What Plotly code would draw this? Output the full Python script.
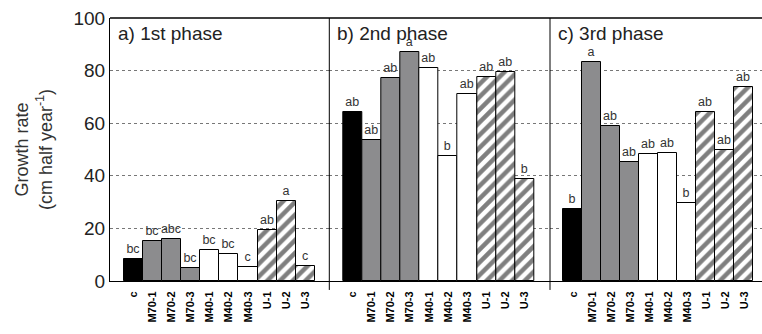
import plotly.graph_objects as go
from plotly.subplots import make_subplots

categories = ["c", "M70-1", "M70-2", "M70-3", "M40-1", "M40-2", "M40-3", "U-1", "U-2", "U-3"]
panel_titles = ["a) 1st phase", "b) 2nd phase", "c) 3rd phase"]
phase1 = [8.4, 15.2, 16.0, 5.1, 11.8, 10.3, 5.2, 19.3, 30.5, 5.6]
phase2 = [64.3, 53.6, 77.3, 87.0, 80.9, 47.6, 71.2, 77.6, 79.5, 38.9]
phase3 = [27.4, 83.3, 58.9, 45.2, 48.2, 48.5, 29.5, 64.1, 49.8, 73.6]
letters1 = ["bc", "bc", "abc", "bc", "bc", "bc", "c", "ab", "a", "c"]
letters2 = ["ab", "ab", "ab", "a", "ab", "b", "ab", "ab", "ab", "b"]
letters3 = ["b", "a", "ab", "ab", "ab", "ab", "b", "ab", "ab", "ab"]
y_ticks = [0, 20, 40, 60, 80, 100]

FONT = "Liberation Sans, Arial, sans-serif"
groups = [("c", "black", None), ("M70", "#8c8c8e", None), ("M40", "white", None), ("U", "white", "/")]

def group_of(cat):
    if cat == "c":
        return groups[0]
    for g in groups[1:]:
        if cat.startswith(g[0]):
            return g

d1 = 219.3 / 652
d2 = 440.0 / 652
fig = make_subplots(rows=1, cols=3, horizontal_spacing=0, shared_yaxes=True)
domains = [[0, d1], [d1, d2], [d2, 1]]
ranges = [[-1.21, 10.25], [-1.21, 10.32], [-1.21, 9.95]]

for p, (vals, labs) in enumerate([(phase1, letters1), (phase2, letters2), (phase3, letters3)]):
    for g in groups:
        xs = [c for c in categories if group_of(c)[0] == g[0]]
        ys = [vals[categories.index(c)] for c in xs]
        ts = [labs[categories.index(c)] for c in xs]
        marker = dict(color=g[1], line=dict(color="black", width=1))
        if g[2]:
            marker["pattern"] = dict(shape="/", fgcolor="black", bgcolor="white", size=9, solidity=0.5)
        lblfont = dict(size=12.5, color="#333333", family=FONT)
        fig.add_trace(go.Bar(x=xs, y=ys, text=ts, textposition="outside", constraintext="none",
                             textfont=lblfont, outsidetextfont=lblfont, cliponaxis=False,
                             marker=marker, width=1, showlegend=False), row=1, col=p + 1)

for i in range(3):
    ax = "xaxis" if i == 0 else f"xaxis{i+1}"
    fig.layout[ax].update(domain=domains[i], range=ranges[i], type="category",
                          categoryorder="array", categoryarray=categories,
                          tickangle=-90, tickfont=dict(size=11, family=FONT, color="black", weight="bold"),
                          showline=True, linecolor="black", linewidth=1, ticks="", showgrid=False,
                          ticklabelstandoff=5, fixedrange=True)
    yax = "yaxis" if i == 0 else f"yaxis{i+1}"
    fig.layout[yax].update(range=[0, 100], tickvals=y_ticks, showgrid=True,
                           gridcolor="#777", griddash="dot", gridwidth=1, zeroline=False,
                           showticklabels=(i == 0), ticks="",
                           tickfont=dict(size=19, family=FONT, color="#222"))
    fig.add_annotation(x=domains[i][0] + 6 / 652, y=0.99, xref="paper", yref="paper",
                       text=panel_titles[i], showarrow=False, xanchor="left", yanchor="top",
                       font=dict(size=19, family=FONT, color="#222"))

fig.layout.yaxis.update(showline=True, linecolor="black", linewidth=1,
                        title=dict(text="Growth rate<br>(cm half year<sup>-1</sup>)",
                                   font=dict(size=18, family=FONT, color="#333"), standoff=16))

fig.add_shape(type="line", xref="paper", yref="paper", x0=0, x1=1, y0=1, y1=1,
              line=dict(color="black", width=1.5))
for xd in [d1, d2]:
    fig.add_shape(type="line", xref="paper", yref="paper", x0=xd, x1=xd, y0=-0.034, y1=1,
                  line=dict(color="black", width=1))

fig.update_layout(width=762, height=334, margin=dict(l=110, r=0, t=18, b=53),
                  plot_bgcolor="white", paper_bgcolor="white", bargap=0,
                  font=dict(family=FONT))
fig.write_html("out.html")
